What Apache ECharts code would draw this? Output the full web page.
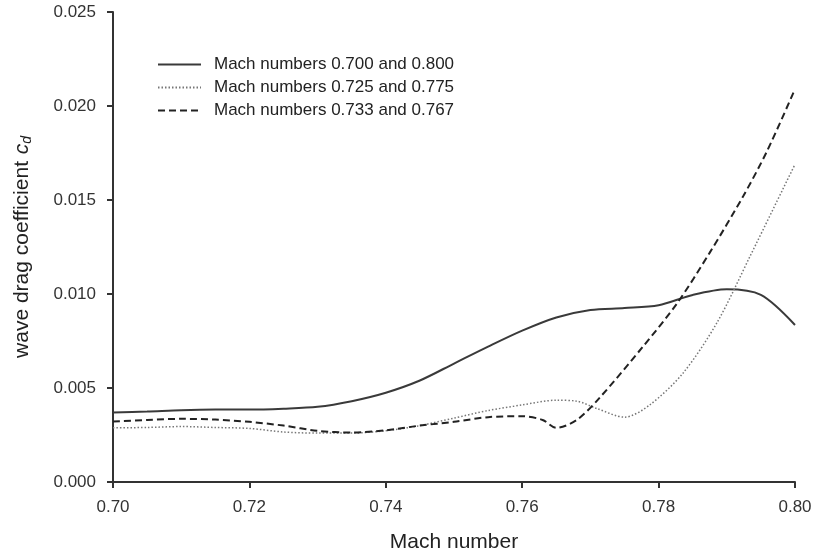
<!DOCTYPE html>
<html>
<head>
<meta charset="utf-8">
<script src="https://cdn.jsdelivr.net/npm/echarts@6/dist/echarts.min.js"></script>
<style>
  html, body { margin: 0; padding: 0; background: #fff; }
  #chart { width: 814px; height: 553px; }
</style>
</head>
<body>
<div id="chart"></div>
<script>
// Mach number / wave drag coefficient
var seriesNames = [
  'Mach numbers 0.700 and 0.800',
  'Mach numbers 0.725 and 0.775',
  'Mach numbers 0.733 and 0.767'
]

var mach700 = [0.700, 0.705, 0.710, 0.715, 0.720, 0.725, 0.730, 0.735, 0.740, 0.745, 0.750,
  0.755, 0.760, 0.765, 0.770, 0.775, 0.780, 0.785, 0.790, 0.795, 0.800]
var cd700 = [0.00370, 0.00375, 0.00382, 0.00385, 0.00385, 0.00390, 0.00400, 0.00430, 0.00475, 0.00540, 0.00630,
  0.00720, 0.00805, 0.00875, 0.00915, 0.00925, 0.00940, 0.00995, 0.01025, 0.00995, 0.00835]

var mach725 = [0.700, 0.705, 0.710, 0.715, 0.720, 0.725, 0.730, 0.735, 0.740, 0.745, 0.750,
  0.755, 0.760, 0.765, 0.768, 0.771, 0.775, 0.7787, 0.7836, 0.7886, 0.7934, 0.800]
var cd725 = [0.00288, 0.00290, 0.00295, 0.00290, 0.00285, 0.00266, 0.00260, 0.00260, 0.00273, 0.00300, 0.00340,
  0.00380, 0.00410, 0.00435, 0.00430, 0.00390, 0.00345, 0.00410, 0.00580, 0.00850, 0.01200, 0.01690]

var mach733 = [0.700, 0.705, 0.710, 0.715, 0.720, 0.725, 0.730, 0.735, 0.740, 0.745, 0.750,
  0.755, 0.760, 0.763, 0.765, 0.768, 0.7714, 0.7777, 0.7827, 0.7875, 0.7924, 0.7959, 0.800]
var cd733 = [0.00322, 0.00330, 0.00336, 0.00332, 0.00320, 0.00300, 0.00272, 0.00263, 0.00275, 0.00300, 0.00320,
  0.00345, 0.00350, 0.00330, 0.00288, 0.00330, 0.00450, 0.00720, 0.00950, 0.01220, 0.01520, 0.01760, 0.02090]

function pairs(xs, ys) {
  return xs.map(function(x, i) { return [x, ys[i]] })
}

var chart = echarts.init(document.getElementById('chart'))

var font = 'Liberation Sans'
var axisText = { color: '#333', fontSize: 17, fontFamily: font }

chart.setOption({
  animation: false,
  backgroundColor: '#fff',
  grid: { left: 113, right: 19, top: 12, bottom: 71, containLabel: false, outerBoundsMode: 'none' },
  legend: {
    orient: 'vertical',
    left: 152,
    top: 51,
    itemWidth: 43,
    itemHeight: 16,
    itemGap: 6,
    itemStyle: { opacity: 0 },
    textStyle: { color: '#222', fontSize: 17, lineHeight: 16, fontFamily: font, padding: [0, 0, 0, 8] },
    data: seriesNames
  },
  xAxis: {
    type: 'value',
    min: 0.70,
    max: 0.80,
    interval: 0.02,
    name: 'Mach number',
    nameLocation: 'middle',
    nameGap: 50,
    nameTextStyle: { color: '#222', fontSize: 21, fontFamily: font },
    axisLine: { lineStyle: { color: '#333', width: 2 } },
    axisTick: { length: 6, lineStyle: { color: '#333', width: 2 } },
    axisLabel: Object.assign({ margin: 17, formatter: function(v) { return v.toFixed(2) } }, axisText),
    splitLine: { show: false }
  },
  yAxis: {
    type: 'value',
    min: 0,
    max: 0.025,
    interval: 0.005,
    name: '{t|wave drag coefficient}  {c|c}{d|d}',
    nameLocation: 'middle',
    nameGap: 79,
    nameRotate: 90,
    nameTextStyle: {
      color: '#222',
      fontFamily: font,
      rich: {
        t: { fontSize: 21, fontFamily: font, color: '#222' },
        c: { fontSize: 21, fontStyle: 'italic', fontFamily: font, color: '#222' },
        d: { fontSize: 14, fontStyle: 'italic', fontFamily: font, color: '#222', verticalAlign: 'bottom', padding: [10, 0, 0, 0] }
      }
    },
    axisLine: { show: true, lineStyle: { color: '#333', width: 2 } },
    axisTick: { show: true, length: 6, lineStyle: { color: '#333', width: 2 } },
    axisLabel: Object.assign({ margin: 17, formatter: function(v) { return v.toFixed(3) } }, axisText),
    splitLine: { show: false }
  },
  series: [
    {
      name: seriesNames[0],
      type: 'line',
      smooth: 0.3,
      symbol: 'none',
      data: pairs(mach700, cd700),
      lineStyle: { color: '#3a3a3a', width: 2, type: 'solid' },
      itemStyle: { color: '#3a3a3a' }
    },
    {
      name: seriesNames[1],
      type: 'line',
      smooth: 0.3,
      symbol: 'none',
      data: pairs(mach725, cd725),
      lineStyle: { color: '#777', width: 1.5, type: [1.5, 2] },
      itemStyle: { color: '#777' }
    },
    {
      name: seriesNames[2],
      type: 'line',
      smooth: 0.3,
      symbol: 'none',
      data: pairs(mach733, cd733),
      lineStyle: { color: '#222', width: 2, type: [7, 4] },
      itemStyle: { color: '#222' }
    }
  ]
})
</script>
</body>
</html>
